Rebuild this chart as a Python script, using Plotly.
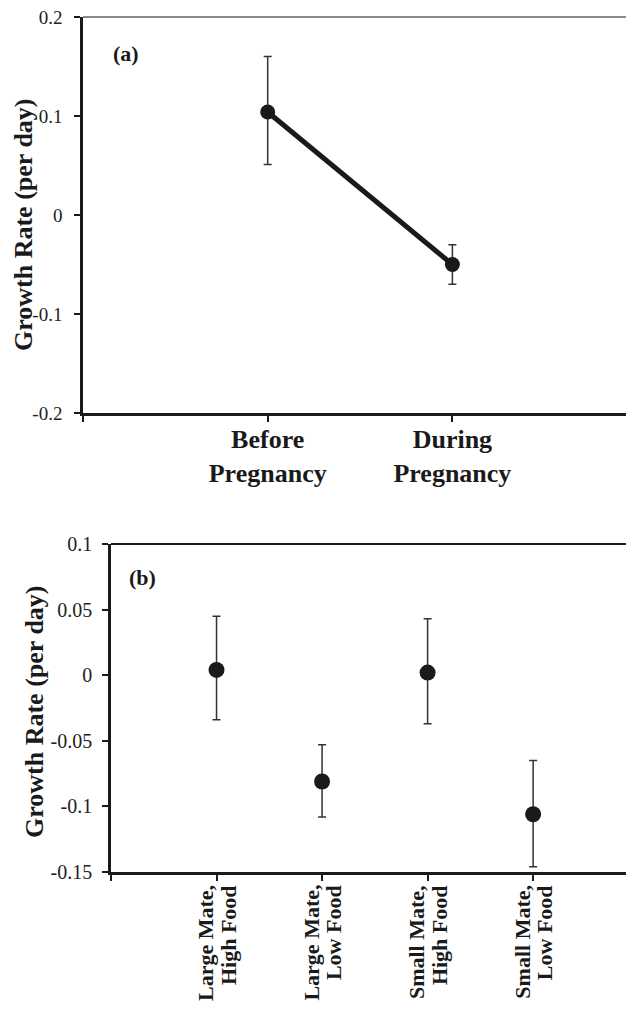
import plotly.graph_objects as go

# ---------------- data ----------------
phase = ["Before<br>Pregnancy", "During<br>Pregnancy"]
rate_a = [0.104, -0.050]
err_a_plus = [0.056, 0.020]
err_a_minus = [0.053, 0.020]

treatments = ["Large Mate,<br>High Food", "Large Mate,<br>Low Food",
              "Small Mate,<br>High Food", "Small Mate,<br>Low Food"]
rate_b = [0.004, -0.081, 0.002, -0.106]
err_b_plus = [0.041, 0.028, 0.041, 0.041]
err_b_minus = [0.038, 0.027, 0.039, 0.040]

yticks_a = [-0.2, -0.1, 0, 0.1, 0.2]
yticklabels_a = ["-0.2", "-0.1", "0", "0.1", "0.2"]
yticks_b = [-0.15, -0.1, -0.05, 0, 0.05, 0.1]
yticklabels_b = ["-0.15", "-0.1", "-0.05", "0", "0.05", "0.1"]

ytitle = "Growth Rate (per day)"
panel_labels = ["(a)", "(b)"]

# ---------------- figure ----------------
W, H = 626, 1010
FONT = "Liberation Serif, Times New Roman, serif"
INK = "#1a1a1a"

xa = list(range(len(phase)))
xb = list(range(len(treatments)))


def bold_lines(s):
    return "<br>".join("<b>" + part + "</b>" for part in s.split("<br>"))


fig = go.Figure()

fig.add_trace(go.Scatter(
    x=xa, y=rate_a, mode="lines+markers",
    line=dict(color=INK, width=5),
    marker=dict(color=INK, size=15),
    error_y=dict(type="data", symmetric=False, array=err_a_plus,
                 arrayminus=err_a_minus, color="#333333", thickness=1.5, width=4),
    xaxis="x", yaxis="y", showlegend=False, hoverinfo="x+y"))

fig.add_trace(go.Scatter(
    x=xb, y=rate_b, mode="markers",
    marker=dict(color=INK, size=16),
    error_y=dict(type="data", symmetric=False, array=err_b_plus,
                 arrayminus=err_b_minus, color="#333333", thickness=1.5, width=4),
    xaxis="x2", yaxis="y2", showlegend=False, hoverinfo="x+y"))


def px_x(p):
    return p / W


def px_y(p):
    return 1 - p / H


common = dict(showgrid=False, zeroline=False, showline=True, linecolor=INK,
              linewidth=2.5, ticks="outside", ticklen=6, tickcolor=INK,
              tickwidth=1.5, automargin=False)

fig.update_layout(
    width=W, height=H,
    margin=dict(l=0, r=0, t=0, b=0),
    paper_bgcolor="white", plot_bgcolor="white",
    font=dict(family=FONT, color=INK),
    xaxis=dict(**common, domain=[px_x(83), 1.0], anchor="y",
               range=[-1, len(phase) - 1 + 0.94], tickangle=0,
               tickvals=[-1] + xa, ticktext=[""] + [bold_lines(p) for p in phase],
               tickfont=dict(size=26, color=INK), ticklabelstandoff=-5),
    yaxis=dict(**common, domain=[px_y(413), px_y(17)], anchor="x",
               range=[-0.2, 0.2], tickvals=yticks_a, ticktext=yticklabels_a,
               tickfont=dict(size=19, color="#222222"), ticklabelstandoff=8),
    xaxis2=dict(**common, domain=[px_x(111), 1.0], anchor="y2",
                range=[-1, len(treatments) - 1 + 0.88],
                tickvals=[-1] + xb, ticktext=[""] * (len(xb) + 1)),
    yaxis2=dict(**common, domain=[px_y(872), px_y(544)], anchor="x2",
                range=[-0.15, 0.1], tickvals=yticks_b, ticktext=yticklabels_b,
                tickfont=dict(size=20, color="#222222"), ticklabelstandoff=6),
)

# top frame lines
fig.add_shape(type="line", xref="x domain", yref="y domain", x0=0, x1=1, y0=1, y1=1,
              line=dict(color="#8a8a8a", width=2))
fig.add_shape(type="line", xref="x2 domain", yref="y2 domain", x0=0, x1=1, y0=1, y1=1,
              line=dict(color=INK, width=2))

# y-axis titles
fig.add_annotation(text="<b>" + ytitle + "</b>", textangle=-90, showarrow=False,
                   xref="paper", yref="paper", x=px_x(24), y=px_y(225),
                   xanchor="center", yanchor="middle", font=dict(size=26, color=INK))
fig.add_annotation(text="<b>" + ytitle + "</b>", textangle=-90, showarrow=False,
                   xref="paper", yref="paper", x=px_x(34), y=px_y(712),
                   xanchor="center", yanchor="middle", font=dict(size=26, color=INK))

# rotated two-line category labels for panel (b)
for i, t in zip(xb, treatments):
    lines = t.split("<br>")
    for k, part in enumerate(lines):
        fig.add_annotation(text="<b>" + part + "</b>", textangle=-90, showarrow=False,
                           xref="x2", yref="y2 domain", x=i, y=0,
                           xshift=(k - (len(lines) - 1) / 2) * 23, yshift=-11,
                           xanchor="center", yanchor="top",
                           font=dict(size=22, color=INK))

# panel labels
fig.add_annotation(text="<b>" + panel_labels[0] + "</b>", xref="x domain", yref="y domain",
                   x=0.079, y=0.909, showarrow=False, font=dict(size=22, color=INK),
                   xanchor="center", yanchor="middle")
fig.add_annotation(text="<b>" + panel_labels[1] + "</b>", xref="x2 domain", yref="y2 domain",
                   x=0.062, y=0.899, showarrow=False, font=dict(size=22, color=INK),
                   xanchor="center", yanchor="middle")

fig.write_html("out.html", config={"displayModeBar": False},
               post_script="document.body.style.margin='0px';")
